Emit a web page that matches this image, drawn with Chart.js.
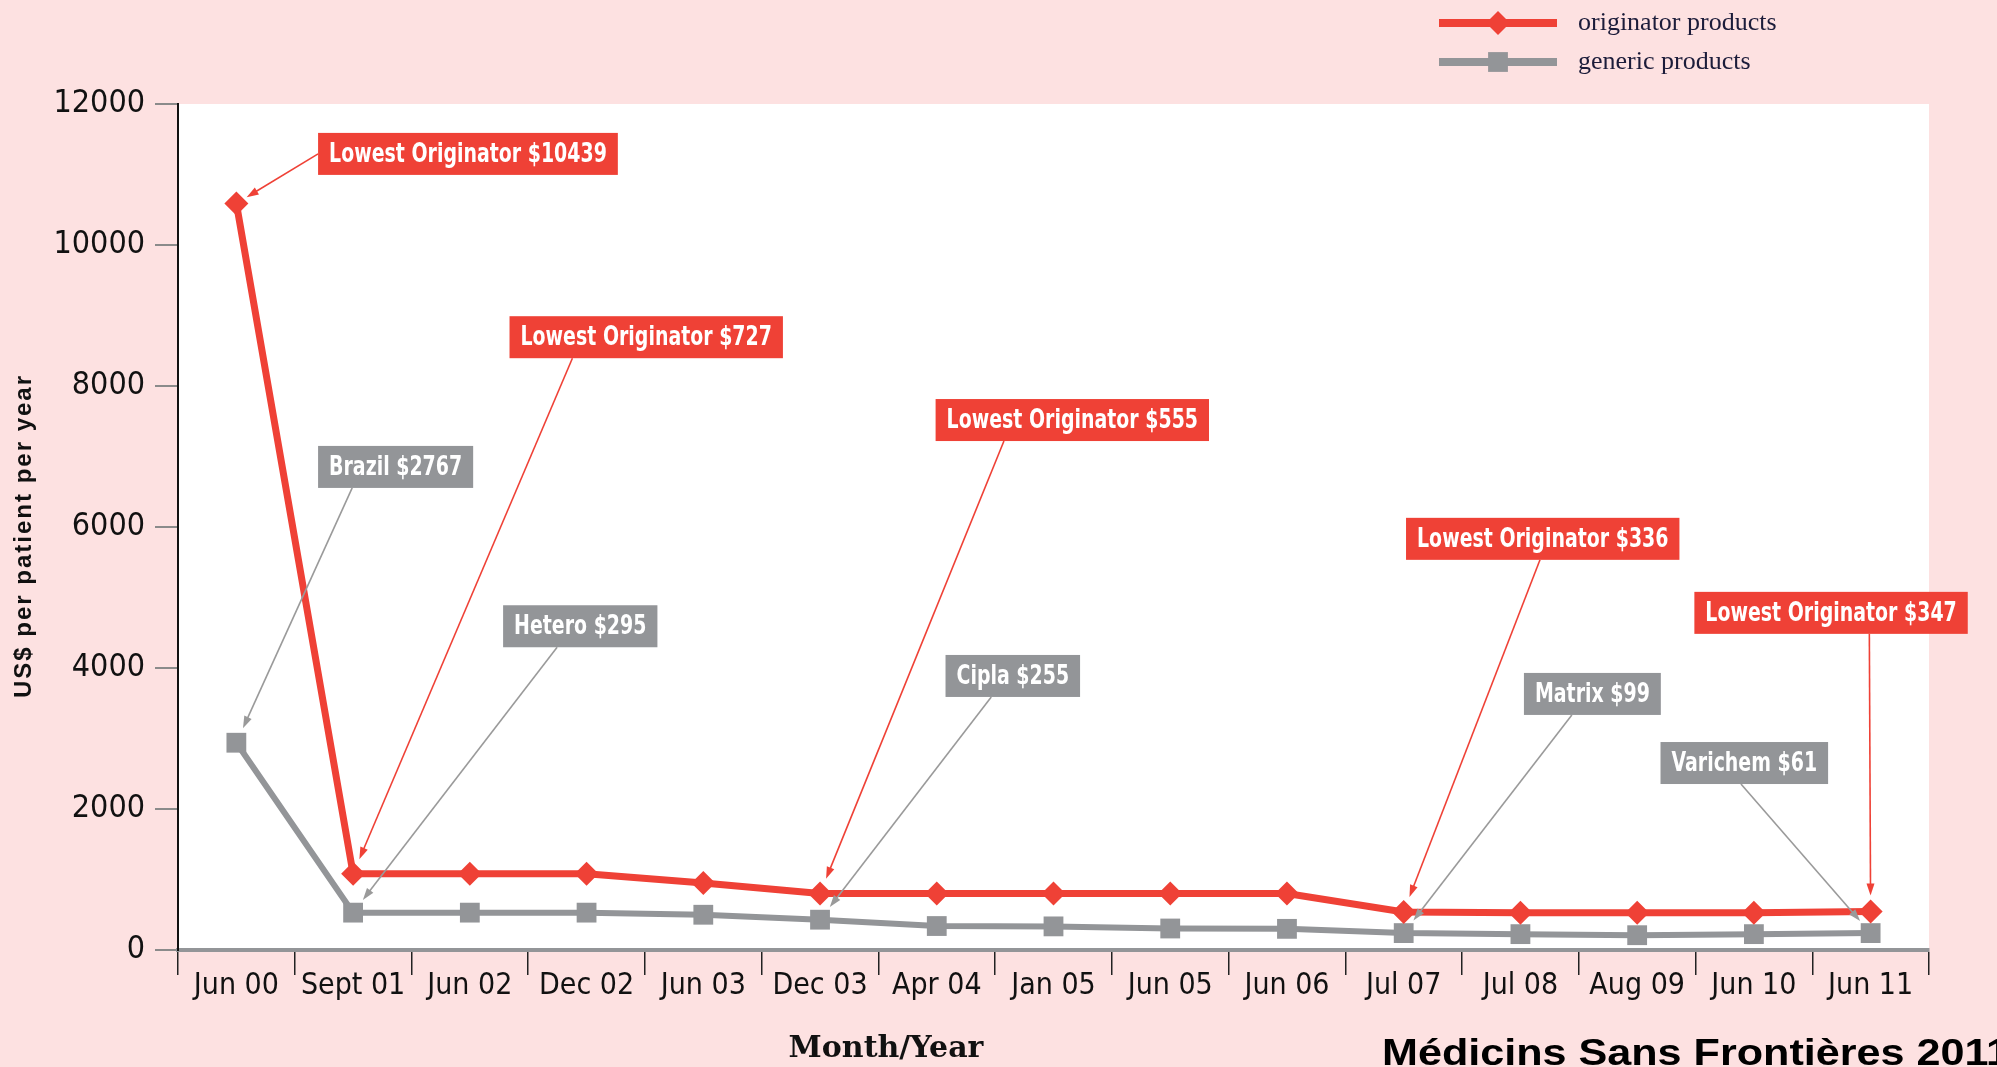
<!DOCTYPE html>
<html>
<head>
<meta charset="utf-8">
<script src="https://cdn.jsdelivr.net/npm/chart.js@4"></script>
<style>
  html, body { margin: 0; padding: 0; background: #fde1e1; }
</style>
</head>
<body>
<canvas id="chart" width="1997" height="1067"></canvas>
<script>
// --- data ---
const months = ["Jun 00", "Sept 01", "Jun 02", "Dec 02", "Jun 03", "Dec 03", "Apr 04", "Jan 05",
                "Jun 05", "Jun 06", "Jul 07", "Jul 08", "Aug 09", "Jun 10", "Jun 11"];
const originator = [10590, 1080, 1080, 1080, 950, 800, 800, 800, 800, 800, 540, 530, 530, 530, 545];
const generic = [2940, 530, 530, 530, 500, 430, 340, 335, 305, 300, 240, 225, 210, 225, 240];
const yTicks = [0, 2000, 4000, 6000, 8000, 10000, 12000];
const seriesNames = ["originator products", "generic products"];

// callouts: box placed in data space (category index, value), arrow goes to a data point
const callouts = [
  { text: "Lowest Originator $10439", series: 0, index: 0, x: 0.70, y: 11590, from: "left" },
  { text: "Lowest Originator $727", series: 0, index: 1, x: 2.34, y: 8990, from: 0.23 },
  { text: "Brazil $2767", series: 1, index: 0, x: 0.70, y: 7150, from: 0.22 },
  { text: "Hetero $295", series: 1, index: 1, x: 2.285, y: 4890, from: 0.35 },
  { text: "Lowest Originator $555", series: 0, index: 5, x: 5.99, y: 7815, from: 0.25 },
  { text: "Cipla $255", series: 1, index: 5, x: 6.075, y: 4185, from: 0.34 },
  { text: "Lowest Originator $336", series: 0, index: 10, x: 10.02, y: 6130, from: 0.49 },
  { text: "Matrix $99", series: 1, index: 10, x: 11.03, y: 3930, from: 0.35 },
  { text: "Lowest Originator $347", series: 0, index: 14, x: 12.49, y: 5080, from: 0.64 },
  { text: "Varichem $61", series: 1, index: 14, x: 12.20, y: 2950, from: 0.48 }
];

const RED = "#ef4136";
const GREY = "#939598";
const PINK = "#fde1e1";
const NARROW = '"Liberation Sans Narrow", "DejaVu Sans Condensed", sans-serif';
const SQUEEZE = 0.81; // the boxes use a condensed face; squeeze the text to match

const backdrop = {
  id: "backdrop",
  beforeDraw(chart) {
    const { ctx, chartArea: a } = chart;
    ctx.save();
    ctx.fillStyle = PINK;
    ctx.fillRect(0, 0, chart.width, chart.height);
    ctx.fillStyle = "#fff";
    ctx.fillRect(a.left, a.top, a.right - a.left, a.bottom - a.top);
    ctx.restore();
  }
};

function arrow(ctx, x1, y1, x2, y2, color) {
  const ang = Math.atan2(y2 - y1, x2 - x1);
  const c = Math.cos(ang), s = Math.sin(ang);
  ctx.strokeStyle = color;
  ctx.fillStyle = color;
  ctx.lineWidth = 1.6;
  ctx.beginPath();
  ctx.moveTo(x1, y1);
  ctx.lineTo(x2 - 8 * c, y2 - 8 * s);
  ctx.stroke();
  ctx.beginPath();
  ctx.moveTo(x2, y2);
  ctx.lineTo(x2 - 12 * c + 4 * s, y2 - 12 * s - 4 * c);
  ctx.lineTo(x2 - 12 * c - 4 * s, y2 - 12 * s + 4 * c);
  ctx.closePath();
  ctx.fill();
}

const calloutPlugin = {
  id: "callouts",
  afterDatasetsDraw(chart) {
    const { ctx } = chart;
    const xs = chart.scales.x, ys = chart.scales.y;
    ctx.save();
    ctx.font = "bold 26px " + NARROW;
    callouts.forEach(c => {
      const color = c.series === 0 ? RED : GREY;
      const w = ctx.measureText(c.text).width * SQUEEZE + 22, h = 42;
      const bx = xs.getPixelForValue(c.x), by = ys.getPixelForValue(c.y);
      const pt = chart.getDatasetMeta(c.series).data[c.index];
      let sx, sy;
      if (c.from === "left") { sx = bx; sy = by + h / 2; }
      else { sx = bx + w * c.from; sy = by + h; }
      const dx = pt.x - sx, dy = pt.y - sy, len = Math.hypot(dx, dy);
      const stop = c.from === "left" ? 12 : 16;
      arrow(ctx, sx, sy, pt.x - dx / len * stop, pt.y - dy / len * stop, c.series === 0 ? RED : "#9a9a9a");
      ctx.fillStyle = color;
      ctx.fillRect(bx, by, w, h);
      ctx.save();
      ctx.translate(bx + w / 2, by + h / 2 + 1);
      ctx.scale(SQUEEZE, 1);
      ctx.fillStyle = "#fff";
      ctx.textAlign = "center";
      ctx.textBaseline = "middle";
      ctx.fillText(c.text, 0, 0);
      ctx.restore();
    });
    ctx.restore();
  }
};

const extras = {
  id: "extras",
  afterDraw(chart) {
    const { ctx } = chart;
    const sets = chart.data.datasets;
    ctx.save();
    // legend
    [23, 62].forEach((y, i) => {
      const ds = sets[i];
      ctx.strokeStyle = ds.borderColor;
      ctx.lineWidth = 8;
      ctx.beginPath();
      ctx.moveTo(1439, y);
      ctx.lineTo(1557, y);
      ctx.stroke();
      ctx.fillStyle = ds.borderColor;
      Chart.helpers.drawPoint(ctx, { pointStyle: ds.pointStyle, radius: ds.pointRadius, borderWidth: 0 }, 1498, y);
      ctx.fillStyle = "#1c1c3a";
      ctx.font = "26px 'Liberation Serif', serif";
      ctx.textAlign = "left";
      ctx.textBaseline = "middle";
      ctx.fillText(seriesNames[i], 1578, y);
    });
    // y axis title
    ctx.save();
    ctx.translate(24, 536);
    ctx.rotate(-Math.PI / 2);
    ctx.font = "bold 24px 'Liberation Sans', Arial, sans-serif";
    ctx.letterSpacing = "2px";
    ctx.fillStyle = "#111";
    ctx.textAlign = "center";
    ctx.textBaseline = "middle";
    ctx.fillText("US$ per patient per year", 0, 0);
    ctx.restore();
    // x axis title
    ctx.font = "bold 30px 'DejaVu Serif', serif";
    ctx.fillStyle = "#111";
    ctx.textAlign = "center";
    ctx.textBaseline = "alphabetic";
    ctx.fillText("Month/Year", 886, 1057);
    // credit
    ctx.save();
    ctx.font = "bold 36px 'Liberation Sans', Arial, sans-serif";
    const cw = ctx.measureText("Médicins Sans Frontières 2011").width;
    ctx.translate(1382, 1065);
    ctx.scale(628 / cw, 1);
    ctx.fillStyle = "#000";
    ctx.textAlign = "left";
    ctx.fillText("Médicins Sans Frontières 2011", 0, 0);
    ctx.restore();
    ctx.restore();
  }
};

new Chart(document.getElementById("chart"), {
  type: "line",
  data: {
    labels: months,
    datasets: [
      {
        label: seriesNames[0],
        data: originator,
        borderColor: RED,
        backgroundColor: RED,
        borderWidth: 7,
        pointStyle: "rectRot",
        pointRadius: 12,
        pointBorderWidth: 0,
        pointBackgroundColor: RED,
        tension: 0
      },
      {
        label: seriesNames[1],
        data: generic,
        borderColor: GREY,
        backgroundColor: GREY,
        borderWidth: 6,
        pointStyle: "rect",
        pointRadius: 14,
        pointBorderWidth: 0,
        pointBackgroundColor: GREY,
        tension: 0
      }
    ]
  },
  options: {
    responsive: false,
    animation: false,
    layout: { padding: { left: 0, right: 68, top: 104, bottom: 0 } },
    plugins: { legend: { display: false }, tooltip: { enabled: false } },
    scales: {
      x: {
        type: "category",
        offset: true,
        afterFit: s => { s.height = 117; },
        grid: { offset: true, drawOnChartArea: false, tickLength: 25, color: "#222", lineWidth: 1.5 },
        border: { color: GREY, width: 4 },
        ticks: { autoSkip: false, maxRotation: 0, padding: -7, color: "#111",
                 font: { family: NARROW, size: 30 } }
      },
      y: {
        min: 0,
        max: 12000,
        afterFit: s => { s.width = 178; },
        afterBuildTicks: s => { s.ticks = yTicks.map(v => ({ value: v })); },
        grid: { drawOnChartArea: false, tickLength: 23, color: "#8a8a8a", lineWidth: 2 },
        border: { color: "#111", width: 2 },
        ticks: { padding: 10, color: "#111", font: { family: NARROW, size: 32 },
                 callback: v => String(v) }
      }
    }
  },
  plugins: [backdrop, calloutPlugin, extras]
});
</script>
</body>
</html>
